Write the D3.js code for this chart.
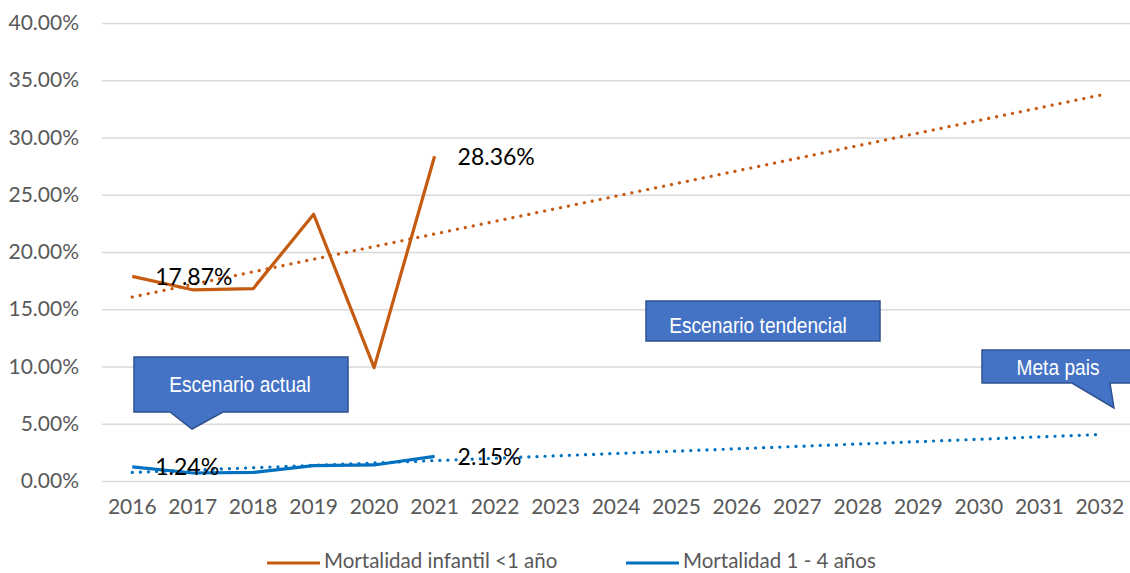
<!DOCTYPE html>
<html><head><meta charset="utf-8">
<script src="https://cdn.jsdelivr.net/npm/d3@7"></script>
<style>body{margin:0;background:#fff}svg{display:block}</style>
</head><body><svg id="c" width="1130" height="573"></svg>
<script>
const years = ["2016","2017","2018","2019","2020","2021","2022","2023","2024","2025","2026","2027","2028","2029","2030","2031","2032"];
const infantYears = ["2016","2017","2018","2019","2020","2021"];
const infant = [0.1787, 0.1670, 0.1680, 0.2330, 0.0990, 0.2836];
const child = [0.0124, 0.0070, 0.0075, 0.0135, 0.0140, 0.0215];
const yTicks = [0, 0.05, 0.10, 0.15, 0.20, 0.25, 0.30, 0.35, 0.40];
const seriesNames = ["Mortalidad infantil <1 año", "Mortalidad 1 - 4 años"];
const colors = ["#C55A11", "#0070C0"];
const callouts = ["Escenario actual", "Escenario tendencial", "Meta pais"];

const svg = d3.select("#c");
const x = d3.scaleBand().domain(years).range([102, 1130]);
const cx = d => x(d) + x.bandwidth() / 2;
const y = d3.scaleLinear().domain([0, 0.4]).range([481, 23]);
const fmt = d3.format(".2%");

// gridlines + y labels
const yAxis = d3.axisLeft(y).tickValues(yTicks).tickFormat(fmt).tickSize(-(1130 - 102)).tickPadding(23);
const gy = svg.append("g").attr("transform", "translate(102,0)").call(yAxis);
gy.select(".domain").remove();
gy.selectAll("line").attr("stroke", "#d9d9d9").attr("stroke-width", 1.5);
gy.selectAll("text").attr("fill", "#595959").style("font-family", "Lato, 'Open Sans', sans-serif").style("font-size", "21px");

// x labels
const xAxis = d3.axisBottom(x).tickSize(0).tickPadding(18);
const gx = svg.append("g").attr("transform", "translate(0,481)").call(xAxis);
gx.select(".domain").remove();
gx.selectAll("text").attr("fill", "#595959").style("font-family", "Lato, 'Open Sans', sans-serif").style("font-size", "21px");

// trend lines (least squares over the observed points)
function trend(vals) {
  const n = vals.length, xs = d3.range(n);
  const mx = d3.mean(xs), my = d3.mean(vals);
  const b = d3.sum(xs, (xi, i) => (xi - mx) * (vals[i] - my)) / d3.sum(xs, xi => (xi - mx) ** 2);
  const a = my - b * mx;
  return [[years[0], a], [years[years.length - 1], a + b * (years.length - 1)]];
}
const line = d3.line().x(d => cx(d[0])).y(d => y(d[1]));
[infant, child].forEach((vals, i) => {
  svg.append("path").datum(trend(vals)).attr("d", line)
    .attr("fill", "none").attr("stroke", colors[i]).attr("stroke-width", 3.2)
    .attr("stroke-linecap", "round").attr("stroke-dasharray", "0.1 8");
});

// series lines
[infant, child].forEach((vals, i) => {
  svg.append("path").datum(vals.map((v, j) => [infantYears[j], v])).attr("d", line)
    .attr("fill", "none").attr("stroke", colors[i]).attr("stroke-width", 3.2).attr("stroke-linejoin", "round");
});

// data labels (first and last)
[infant, child].forEach(vals => {
  [0, vals.length - 1].forEach(j => {
    svg.append("text").attr("x", cx(infantYears[j]) + 23).attr("y", y(vals[j]))
      .attr("dy", "0.36em").attr("fill", "#000")
      .style("font-family", "Lato, 'Open Sans', sans-serif").style("font-size", "23px")
      .text(fmt(vals[j]));
  });
});

// callouts
function callout(pathD, tx, ty, label) {
  svg.append("path").attr("d", pathD).attr("fill", "#4472C4").attr("stroke", "#2F528F").attr("stroke-width", 1.5);
  svg.append("text").attr("transform", `translate(${tx},${ty}) scale(0.87,1)`).attr("text-anchor", "middle").attr("dy", "0.36em")
    .attr("fill", "#fff").style("font-family", "'Liberation Sans', Arial, sans-serif")
    .style("font-size", "22px").text(label);
}
callout("M134,357 H348 V412 H223 L192,429 L170,412 H134 Z", 240, 384, callouts[0]);
callout("M646,301 H880 V341 H646 Z", 758, 325, callouts[1]);
callout("M982,350 H1132 V383 H1110 L1114,408 L1072,383 H982 Z", 1058, 367, callouts[2]);

// legend
const lg = svg.append("g");
const legX = [267, 626];
seriesNames.forEach((n, i) => {
  lg.append("line").attr("x1", legX[i]).attr("x2", legX[i] + 53).attr("y1", 563).attr("y2", 563)
    .attr("stroke", colors[i]).attr("stroke-width", 3.2);
  lg.append("text").attr("x", legX[i] + 57).attr("y", 561).attr("dy", "0.35em").attr("fill", "#595959")
    .style("font-family", "Lato, 'Open Sans', sans-serif").style("font-size", "20.5px").text(n);
});
</script></body></html>
